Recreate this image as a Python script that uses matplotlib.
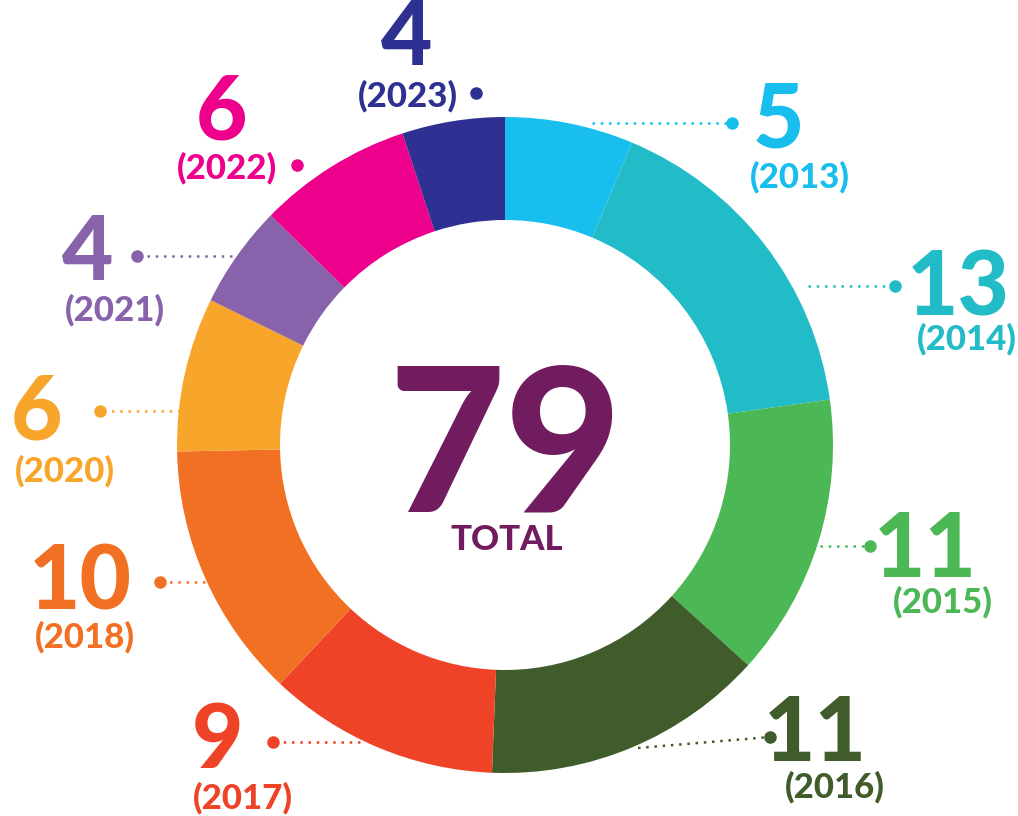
import matplotlib
matplotlib.use("Agg")
import matplotlib.pyplot as plt

years = ["2013", "2014", "2015", "2016", "2017", "2018", "2020", "2021", "2022", "2023"]
counts = [5, 13, 11, 11, 9, 10, 6, 4, 6, 4]
colors = ["#17BEEE", "#22BBC8", "#4CB855", "#405C2B", "#EF4327",
          "#F27024", "#F8A52B", "#8862AA", "#EC008C", "#2E3192"]
total = sum(counts)

W, H = 1018, 816
fam = ["Lato", "DejaVu Sans"]

# label layout in pixel coords: number centre, year centre, dot, line start
layout = {
    "2013": ((778, 121), (800, 177), (732, 123), (592, 123)),
    "2014": ((958, 289), (967, 339), (895, 286), (808, 286)),
    "2015": ((925, 551), (943, 602), (870, 546), (820, 546)),
    "2016": ((815, 735), (835, 787), (770, 737), (638, 748)),
    "2017": ((218, 742), (243, 798), (273, 742), (360, 742)),
    "2018": ((80, 584), (85, 637), (160, 582), (205, 582)),
    "2020": ((37, 413), (65, 471), (100, 411), (180, 411)),
    "2021": ((88, 254), (115, 310), (137, 256), (232, 256)),
    "2022": ((222, 113), (227, 168), (297, 165), None),
    "2023": ((407, 39), (408, 96), (476, 93), None),
}

fig = plt.figure(figsize=(W / 100, H / 100), dpi=100)
ax = fig.add_axes([0, 0, 1, 1])

cx, cy = 505, H - 445
ax.pie(counts, colors=colors, startangle=90, counterclock=False,
       radius=328, center=(cx, cy),
       wedgeprops=dict(width=103, linewidth=0, zorder=3))

for yr, c, col in zip(years, counts, colors):
    (nx, ny), (tx, ty), (dx, dy), start = layout[yr]
    if start is not None:
        ax.plot([start[0], dx], [H - start[1], H - dy], ls=(0, (1, 2.3)),
                lw=1.8, color=col, zorder=1)
    ax.plot(dx, H - dy, "o", ms=8, color=col, zorder=2)
    ax.text(nx, H - ny, str(c), ha="center", va="center", fontsize=64,
            fontweight="black", color=col, family=fam)
    ax.text(tx, H - ty, f"({yr})", ha="center", va="center", fontsize=25,
            fontweight="black", color=col, family=fam)

ax.text(cx, H - 453, str(total), ha="center", va="center", fontsize=145,
        fontweight="black", color="#711C5F", family=fam)
ax.text(cx + 2, H - 540, "TOTAL", ha="center", va="center", fontsize=25,
        fontweight="black", color="#711C5F", family=fam)

ax.set_xlim(0, W)
ax.set_ylim(0, H)
ax.set_aspect("equal")
ax.axis("off")
fig.savefig("out.png", dpi=100, facecolor="white")
